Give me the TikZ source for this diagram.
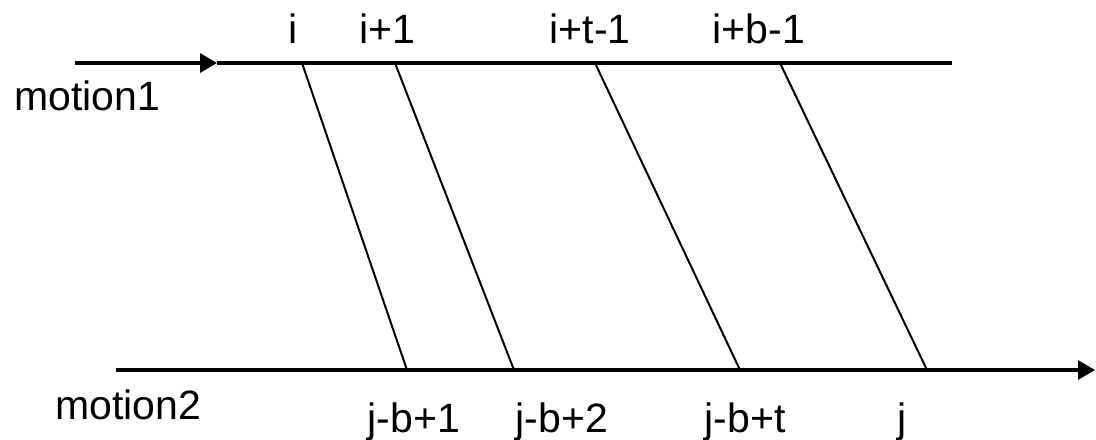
\documentclass[tikz,border=0pt]{standalone}
\usepackage{fontspec}
\setmainfont{Liberation Sans}
\usetikzlibrary{arrows.meta,positioning}

\begin{document}
\begin{tikzpicture}[
  x=0.5pt, y=-0.5pt,
  >={Triangle[length=8.5pt,width=9.5pt]},
  every node/.style={text=black, inner sep=0pt, anchor=base, font=\fontsize{20.5}{24}\selectfont},
  track/.style={line width=1.6pt, draw=black},
  link/.style={line width=1pt, draw=black}
]
\useasboundingbox (0,0) rectangle (1096,439);

% ---- motion tracks ----
\coordinate (T0) at (75,63);
\coordinate (Tm) at (217,63);
\coordinate (T1) at (952,63);
\coordinate (B0) at (116,370);
\coordinate (B1) at (1095,370);

\draw[track,->] (T0) -- (Tm);
\draw[track] (Tm) -- (T1);
\draw[track,->] (B0) -- (B1);

\node (M1) at (87,110) {motion1};
\node (M2) at (128,419) {motion2};

% ---- matched frames ----
\coordinate (a1) at (302,63);
\coordinate (a2) at (395,63);
\coordinate (a3) at (595,63);
\coordinate (a4) at (780,63);
\coordinate (b1) at (407,370);
\coordinate (b2) at (514,370);
\coordinate (b3) at (740,370);
\coordinate (b4) at (927,370);

\draw[link] (a1) -- (b1);
\draw[link] (a2) -- (b2);
\draw[link] (a3) -- (b3);
\draw[link] (a4) -- (b4);

% ---- frame labels ----
\node (la1) at (293,43) {i};
\node (la2) at (387,43) {i+1};
\node (la3) at (590,43) {i+t-1};
\node (la4) at (759,43) {i+b-1};

\node (lb1) at (414,432) {j-b+1};
\node (lb2) at (562,432) {j-b+2};
\node (lb3) at (745,432) {j-b+t};
\node (lb4) at (902,432) {j};

\end{tikzpicture}
\end{document}
